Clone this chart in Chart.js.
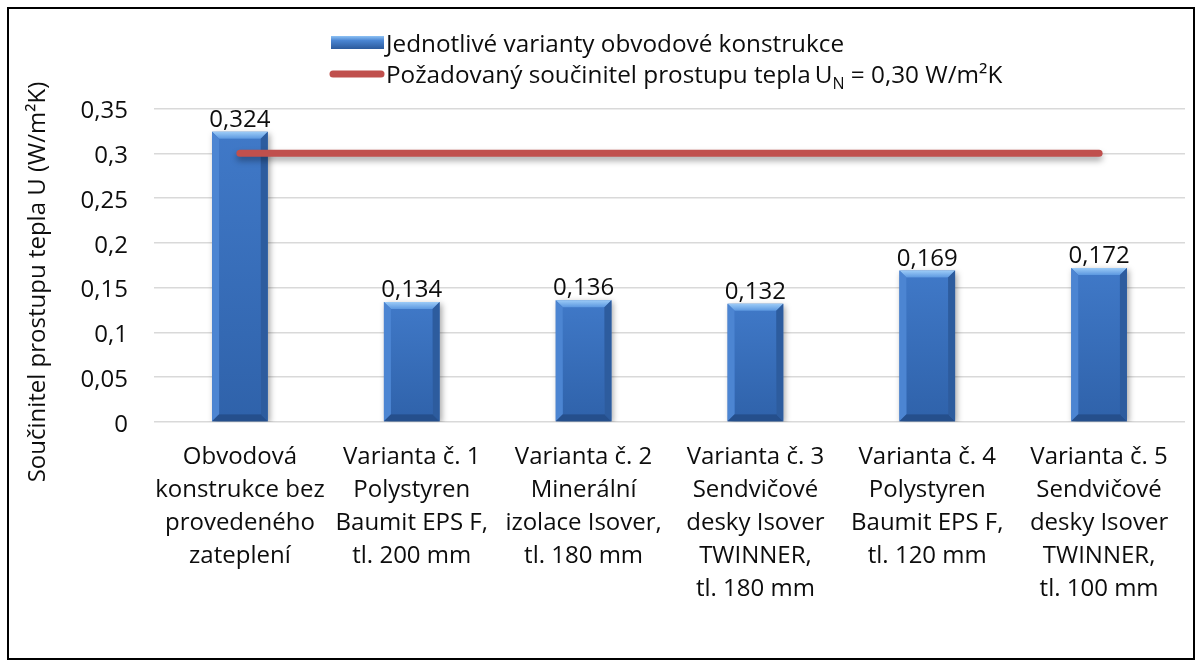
<!DOCTYPE html>
<html lang="cs">
<head>
<meta charset="utf-8">
<script src="https://cdn.jsdelivr.net/npm/chart.js@4/dist/chart.umd.min.js"></script>
<style>
  html, body { margin: 0; padding: 0; background: #fff; }
  #wrap { position: relative; width: 1202px; height: 668px; }
</style>
</head>
<body>
<div id="wrap"><canvas id="c" width="1202" height="668"></canvas></div>
<script>
// Součinitel prostupu tepla U pro jednotlivé varianty obvodové konstrukce
const categories = [
  ['Obvodová', 'konstrukce bez', 'provedeného', 'zateplení'],
  ['Varianta č. 1', 'Polystyren', 'Baumit EPS F,', 'tl. 200 mm'],
  ['Varianta č. 2', 'Minerální', 'izolace Isover,', 'tl. 180 mm'],
  ['Varianta č. 3', 'Sendvičové', 'desky Isover', 'TWINNER,', 'tl. 180 mm'],
  ['Varianta č. 4', 'Polystyren', 'Baumit EPS F,', 'tl. 120 mm'],
  ['Varianta č. 5', 'Sendvičové', 'desky Isover', 'TWINNER,', 'tl. 100 mm']
];
const uValues = [0.324, 0.134, 0.136, 0.132, 0.169, 0.172];
const uRequired = [0.30, 0.30, 0.30, 0.30, 0.30, 0.30];
const yTickLabels = ['0', '0,05', '0,1', '0,15', '0,2', '0,25', '0,3', '0,35'];
const barLabel = 'Jednotlivé varianty obvodové konstrukce';
const lineLabel = 'Požadovaný součinitel prostupu tepla';
const lineLabelSymbol = 'U';
const lineLabelSub = 'N';
const lineLabelTail = ' = 0,30 W/m²K';
const axisTitle = 'Součinitel prostupu tepla U (W/m²K)';

const FONT = '"Open Sans", "Noto Sans", sans-serif';
const TEXT = '#0d0d0d';
const RED = '#C0504D';

function fmt(v) { return String(v).replace('.', ','); }

// Outer frame
const framePlugin = {
  id: 'frame',
  beforeDraw(chart) {
    const ctx = chart.ctx;
    ctx.save();
    ctx.fillStyle = '#fff';
    ctx.fillRect(0, 0, chart.width, chart.height);
    ctx.strokeStyle = '#000';
    ctx.lineWidth = 2;
    ctx.strokeRect(8, 8, 1186, 651);
    ctx.restore();
  }
};

// Soft shadow under bars and the line, bevelled bar faces
const effectsPlugin = {
  id: 'effects',
  beforeDatasetDraw(chart, args) {
    const ctx = chart.ctx;
    ctx.save();
    ctx.shadowColor = 'rgba(0,0,0,0.35)';
    ctx.shadowBlur = 6;
    if (args.index === 0) {
      ctx.shadowOffsetX = 2;
      ctx.shadowOffsetY = 2;
    } else {
      ctx.shadowOffsetX = 0;
      ctx.shadowOffsetY = 4;
    }
  },
  afterDatasetDraw(chart, args) {
    const ctx = chart.ctx;
    ctx.restore();
    if (args.index !== 0) return;
    const meta = chart.getDatasetMeta(0);
    ctx.save();
    meta.data.forEach(bar => {
      const w = bar.width;
      const l = bar.x - w / 2, r = bar.x + w / 2;
      const t = bar.y, b = bar.base;
      const d = Math.min(7, (b - t) / 2);
      // face
      const face = ctx.createLinearGradient(0, t, 0, b);
      face.addColorStop(0, '#4079C8');
      face.addColorStop(1, '#2F62AA');
      ctx.fillStyle = face;
      ctx.fillRect(l + d, t + d, w - 2 * d, b - t - 2 * d);
      // top bevel
      const tg = ctx.createLinearGradient(0, t, 0, t + d);
      tg.addColorStop(0, '#9CCBF7');
      tg.addColorStop(1, '#5C98E0');
      ctx.fillStyle = tg;
      ctx.beginPath();
      ctx.moveTo(l, t); ctx.lineTo(r, t); ctx.lineTo(r - d, t + d); ctx.lineTo(l + d, t + d);
      ctx.closePath(); ctx.fill();
      // left bevel
      ctx.fillStyle = '#4C85D2';
      ctx.beginPath();
      ctx.moveTo(l, t); ctx.lineTo(l + d, t + d); ctx.lineTo(l + d, b - d); ctx.lineTo(l, b);
      ctx.closePath(); ctx.fill();
      // right bevel
      ctx.fillStyle = '#2D5C9E';
      ctx.beginPath();
      ctx.moveTo(r, t); ctx.lineTo(r, b); ctx.lineTo(r - d, b - d); ctx.lineTo(r - d, t + d);
      ctx.closePath(); ctx.fill();
      // bottom bevel
      ctx.fillStyle = '#254F8C';
      ctx.beginPath();
      ctx.moveTo(l, b); ctx.lineTo(l + d, b - d); ctx.lineTo(r - d, b - d); ctx.lineTo(r, b);
      ctx.closePath(); ctx.fill();
    });
    ctx.restore();
  }
};

// Value labels above the bars
const valueLabelPlugin = {
  id: 'valueLabels',
  afterDatasetsDraw(chart) {
    const ctx = chart.ctx;
    const meta = chart.getDatasetMeta(0);
    ctx.save();
    ctx.font = '24px ' + FONT;
    ctx.fillStyle = TEXT;
    ctx.textAlign = 'center';
    ctx.textBaseline = 'alphabetic';
    meta.data.forEach((bar, i) => {
      ctx.fillText(fmt(chart.data.datasets[0].data[i]), bar.x, bar.y - 5);
    });
    ctx.restore();
  }
};

// Vertical axis title
const axisTitlePlugin = {
  id: 'axisTitle',
  afterDraw(chart) {
    const ctx = chart.ctx;
    ctx.save();
    ctx.translate(38, 282);
    ctx.rotate(-Math.PI / 2);
    ctx.font = '24px ' + FONT;
    ctx.fillStyle = TEXT;
    ctx.textAlign = 'center';
    ctx.textBaseline = 'middle';
    ctx.fillText(axisTitle, 0, 0);
    ctx.restore();
  }
};

// Legend with the subscript in the symbol U_N
const legendPlugin = {
  id: 'customLegend',
  afterDraw(chart) {
    const ctx = chart.ctx;
    ctx.save();
    // bar swatch
    const sx = 331, sw = 53, sy = 36, sh = 13;
    const g = ctx.createLinearGradient(0, sy, 0, sy + sh);
    g.addColorStop(0, '#8EC2F4');
    g.addColorStop(0.35, '#4A85D2');
    g.addColorStop(1, '#2B5A9C');
    ctx.fillStyle = g;
    ctx.fillRect(sx, sy, sw, sh);
    // line swatch
    ctx.strokeStyle = RED;
    ctx.lineWidth = 7;
    ctx.lineCap = 'round';
    ctx.beginPath();
    ctx.moveTo(333, 74);
    ctx.lineTo(381, 74);
    ctx.stroke();
    // texts
    ctx.fillStyle = TEXT;
    ctx.textBaseline = 'alphabetic';
    ctx.textAlign = 'left';
    ctx.font = '24.3px ' + FONT;
    ctx.fillText(barLabel, 386, 52);
    let x = 386;
    const y2 = 83;
    ctx.fillText(lineLabel, x, y2);
    x += ctx.measureText(lineLabel).width + 4;
    ctx.fillText(lineLabelSymbol, x, y2);
    x += ctx.measureText(lineLabelSymbol).width;
    ctx.font = '16px ' + FONT;
    ctx.fillText(lineLabelSub, x, y2 + 6);
    x += ctx.measureText(lineLabelSub).width;
    ctx.font = '24.3px ' + FONT;
    ctx.fillText(lineLabelTail, x, y2);
    ctx.restore();
  }
};

const chart = new Chart(document.getElementById('c'), {
  data: {
    labels: categories,
    datasets: [
      {
        type: 'bar',
        label: barLabel,
        data: uValues,
        backgroundColor: '#3A70C0',
        borderWidth: 0,
        barPercentage: 0.324,
        categoryPercentage: 1,
        order: 1
      },
      {
        type: 'line',
        label: lineLabel,
        data: uRequired,
        borderColor: RED,
        borderWidth: 7,
        borderCapStyle: 'round',
        pointRadius: 0,
        fill: false,
        order: 0
      }
    ]
  },
  options: {
    responsive: false,
    animation: false,
    devicePixelRatio: 1,
    layout: { padding: { left: 0, right: 17, top: 108.5, bottom: 0 } },
    plugins: { legend: { display: false }, tooltip: { enabled: false } },
    scales: {
      x: {
        grid: { display: false, drawTicks: false },
        border: { display: false },
        ticks: {
          color: TEXT,
          font: { family: FONT, size: 24, lineHeight: 1.375 },
          padding: 19,
          maxRotation: 0,
          minRotation: 0,
          autoSkip: false
        },
        afterFit(scale) { scale.height = 668 - 422; }
      },
      y: {
        min: 0,
        max: 0.35,
        grid: { color: '#D9D9D9', lineWidth: 1.5, drawTicks: false },
        border: { display: false },
        ticks: {
          stepSize: 0.05,
          color: TEXT,
          font: { family: FONT, size: 24 },
          padding: 26,
          labelOffset: 3,
          callback: (v, i) => yTickLabels[i]
        },
        afterFit(scale) { scale.width = 154; }
      }
    }
  },
  plugins: [framePlugin, effectsPlugin, valueLabelPlugin, axisTitlePlugin, legendPlugin]
});
</script>
</body>
</html>
